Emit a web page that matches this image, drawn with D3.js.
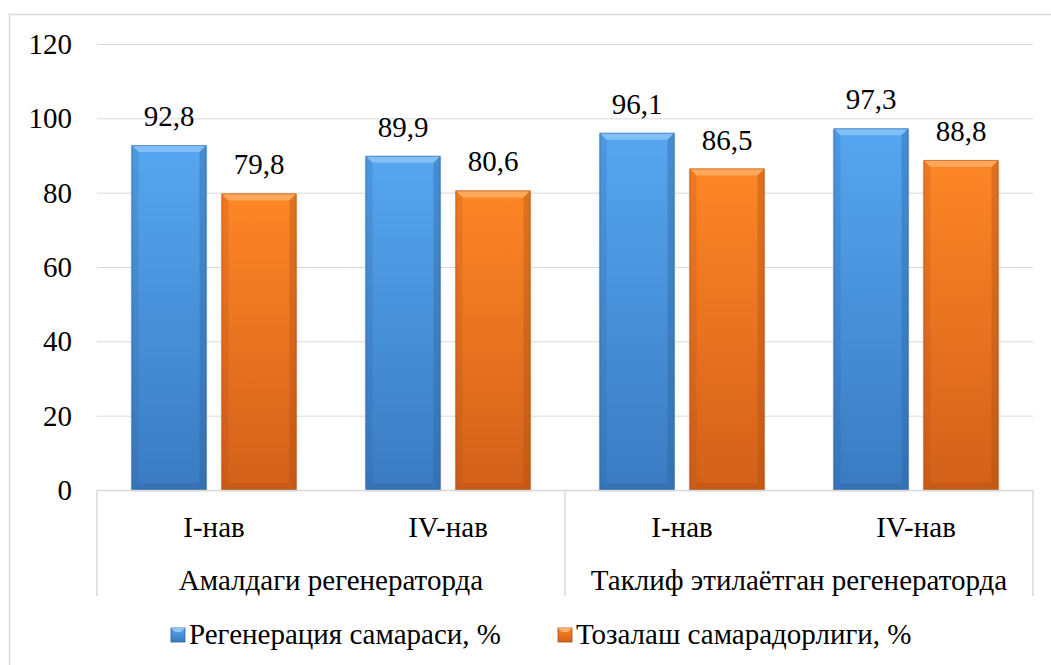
<!DOCTYPE html>
<html>
<head>
<meta charset="utf-8">
<script src="https://cdn.jsdelivr.net/npm/d3@7"></script>
<style>
  body { margin: 0; background: #fff; }
</style>
</head>
<body>
<svg id="chart" width="1051" height="665"></svg>
<script>
// data
var categories = ["I-нав", "IV-нав", "I-нав", "IV-нав"];
var groups = ["Амалдаги регенераторда", "Таклиф этилаётган регенераторда"];
var seriesNames = ["Регенерация самараси, %", "Тозалаш самарадорлиги, %"];
var regen = [92.8, 89.9, 96.1, 97.3];
var cleaning = [79.8, 80.6, 86.5, 88.8];
var yTicks = [0, 20, 40, 60, 80, 100, 120];

var svg = d3.select("#chart"),
    plotLeft = 97, plotRight = 1033, plotTop = 44, plotBottom = 490;

// outer chart-area border (only left/top visible in the crop)
svg.append("path")
  .attr("d", "M9.5,665 V14.5 H1051")
  .attr("fill", "none").attr("stroke", "#d9d9d9").attr("stroke-width", 1.5);

var defs = svg.append("defs");
function grad(id, c1, c2) {
  var g = defs.append("linearGradient").attr("id", id)
    .attr("x1", 0).attr("y1", 0).attr("x2", 0).attr("y2", 1);
  g.append("stop").attr("offset", "0%").attr("stop-color", c1);
  g.append("stop").attr("offset", "100%").attr("stop-color", c2);
}
grad("gBlue", "#55a6f0", "#3a7bc2");
grad("gOrange", "#fd8626", "#d3601a");

var colors = [
  { fill: "url(#gBlue)", light: "#8cc6f7", dark: "#2c5f99" },
  { fill: "url(#gOrange)", light: "#ffb06a", dark: "#a84c12" }
];

var x = d3.scaleBand().domain(d3.range(categories.length)).range([plotLeft, plotRight]);
var outer = (x.bandwidth() - 165) / 2;
var xInner = d3.scaleBand().domain([0, 1]).range([outer, x.bandwidth() - outer]).paddingInner(15 / 90);
var y = d3.scaleLinear().domain([0, 120]).range([plotBottom, plotTop]);

function txt(sel) {
  return sel.attr("font-family", "Liberation Serif").attr("font-size", 29).attr("fill", "#000");
}

// gridlines
svg.append("g").selectAll("line").data(yTicks.filter(function(d) { return d > 0; })).enter()
  .append("line")
  .attr("x1", plotLeft).attr("x2", plotRight)
  .attr("y1", function(d) { return y(d) + 0.5; }).attr("y2", function(d) { return y(d) + 0.5; })
  .attr("stroke", "#d9d9d9").attr("stroke-width", 1);

// y tick labels
svg.append("g").selectAll("text").data(yTicks).enter()
  .append("text")
  .attr("x", 72).attr("y", function(d) { return y(d); })
  .attr("dy", "0.35em")
  .attr("text-anchor", "end")
  .call(txt)
  .text(function(d) { return d; });

// bars
var series = [regen, cleaning];
var bars = [];
series.forEach(function(vals, s) {
  vals.forEach(function(v, i) {
    bars.push({ s: s, i: i, v: v });
  });
});

var bar = svg.append("g").selectAll("g").data(bars).enter().append("g");
bar.each(function(d) {
  var g = d3.select(this),
      bx = x(d.i) + xInner(d.s),
      bw = xInner.bandwidth(),
      by = y(d.v),
      bh = y(0) - y(d.v),
      c = colors[d.s],
      b = 7;
  // soft shadow
  g.append("rect").attr("x", bx - 1).attr("y", by + 1).attr("width", bw + 2).attr("height", bh + 1)
    .attr("fill", "#000").attr("opacity", 0.08);
  g.append("rect").attr("x", bx).attr("y", by).attr("width", bw).attr("height", bh)
    .attr("fill", c.fill);
  // bevel: top light, sides/bottom dark
  g.append("path")
    .attr("d", "M" + bx + "," + by + " H" + (bx + bw) + " L" + (bx + bw - b) + "," + (by + b) + " H" + (bx + b) + " Z")
    .attr("fill", c.light).attr("opacity", 0.8);
  g.append("path")
    .attr("d", "M" + (bx + bw) + "," + by + " V" + (by + bh) + " L" + (bx + bw - b) + "," + (by + bh - b) + " V" + (by + b) + " Z")
    .attr("fill", c.dark).attr("opacity", 0.35);
  g.append("path")
    .attr("d", "M" + bx + "," + by + " V" + (by + bh) + " L" + (bx + b) + "," + (by + bh - b) + " V" + (by + b) + " Z")
    .attr("fill", c.dark).attr("opacity", 0.2);
  g.append("path")
    .attr("d", "M" + bx + "," + (by + bh) + " H" + (bx + bw) + " L" + (bx + bw - b) + "," + (by + bh - b) + " H" + (bx + b) + " Z")
    .attr("fill", c.dark).attr("opacity", 0.3);
  g.append("rect").attr("x", bx + 0.5).attr("y", by + 0.5).attr("width", bw - 1).attr("height", bh - 1)
    .attr("fill", "none").attr("stroke", c.dark).attr("stroke-opacity", 0.5);
  // value label
  g.append("text")
    .attr("x", bx + bw / 2).attr("y", by - 19)
    .attr("text-anchor", "middle")
    .call(txt)
    .text(String(d.v).replace(".", ","));
});

// x axis baseline and category dividers
svg.append("line").attr("x1", plotLeft).attr("x2", plotRight).attr("y1", plotBottom + 0.5).attr("y2", plotBottom + 0.5)
  .attr("stroke", "#d9d9d9").attr("stroke-width", 1.5);
[plotLeft, (plotLeft + plotRight) / 2, plotRight].forEach(function(px) {
  svg.append("line").attr("x1", px).attr("x2", px).attr("y1", plotBottom).attr("y2", 596)
    .attr("stroke", "#d9d9d9").attr("stroke-width", 1.5);
});

// category labels
svg.append("g").selectAll("text").data(categories).enter()
  .append("text")
  .attr("x", function(d, i) { return x(i) + x.bandwidth() / 2; })
  .attr("y", 537)
  .attr("text-anchor", "middle")
  .call(txt)
  .text(function(d) { return d; });

// group labels
svg.append("g").selectAll("text").data(groups).enter()
  .append("text")
  .attr("x", function(d, i) { return x(i * 2) + x.bandwidth(); })
  .attr("y", 590)
  .attr("text-anchor", "middle")
  .call(txt)
  .text(function(d) { return d; });

// legend
var legendX = [171, 558];
var leg = svg.append("g").selectAll("g").data(seriesNames).enter().append("g")
  .attr("transform", function(d, i) { return "translate(" + legendX[i] + ",628)"; });
leg.append("rect").attr("width", 14).attr("height", 14)
  .attr("fill", function(d, i) { return colors[i].fill; })
  .attr("stroke", function(d, i) { return colors[i].dark; }).attr("stroke-width", 0.8);
leg.append("path").attr("d", "M0,0 H14 L10,4 H4 Z")
  .attr("fill", function(d, i) { return colors[i].light; });
leg.append("text").attr("x", 18).attr("y", 16)
  .call(txt)
  .text(function(d) { return d; });
</script>
</body>
</html>
